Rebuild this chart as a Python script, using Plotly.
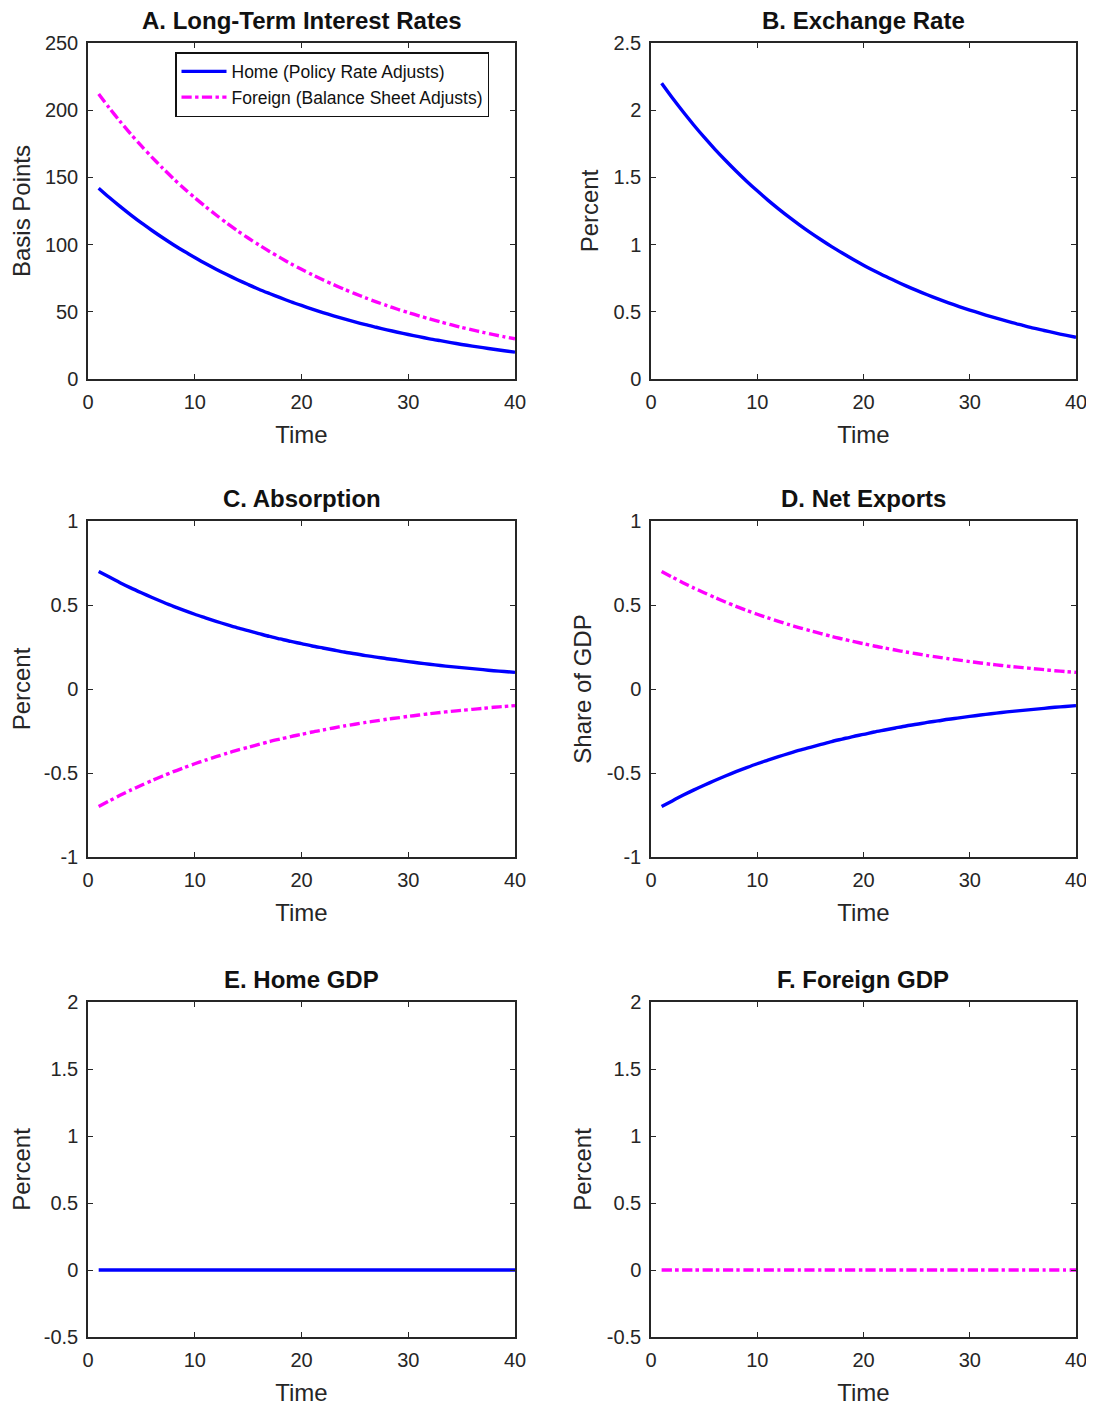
import plotly.graph_objects as go

time = list(range(1, 41))

home_rate = [142, 135.0, 128.4, 122.1, 116.1, 110.5, 105.1, 99.9, 95.0, 90.4, 85.9, 81.7, 77.7, 73.9,
             70.3, 66.8, 63.6, 60.5, 57.5, 54.7, 52.0, 49.4, 47.0, 44.7, 42.5, 40.4, 38.5, 36.6, 34.8,
             33.1, 31.5, 29.9, 28.5, 27.1, 25.7, 24.5, 23.3, 22.1, 21.0, 20.0]
foreign_rate = [212, 201.6, 191.7, 182.3, 173.4, 164.9, 156.8, 149.1, 141.8, 134.9, 128.3, 122.0, 116.0,
                110.3, 104.9, 99.8, 94.9, 90.3, 85.8, 81.6, 77.6, 73.8, 70.2, 66.8, 63.5, 60.4, 57.4,
                54.6, 51.9, 49.4, 47.0, 44.7, 42.5, 40.4, 38.4, 36.5, 34.7, 33.0, 31.4, 29.9]
exchange_rate = [2.200, 2.092, 1.990, 1.892, 1.799, 1.711, 1.628, 1.548, 1.472, 1.400, 1.331, 1.266,
                 1.204, 1.145, 1.089, 1.036, 0.985, 0.937, 0.891, 0.847, 0.806, 0.766, 0.729, 0.693,
                 0.659, 0.627, 0.596, 0.567, 0.539, 0.513, 0.488, 0.464, 0.441, 0.419, 0.399, 0.379,
                 0.361, 0.343, 0.326, 0.310]
home_absorption = [0.700, 0.666, 0.633, 0.602, 0.573, 0.545, 0.518, 0.492, 0.468, 0.445, 0.424, 0.403,
                   0.383, 0.364, 0.347, 0.330, 0.313, 0.298, 0.283, 0.270, 0.256, 0.244, 0.232, 0.220,
                   0.210, 0.199, 0.190, 0.180, 0.172, 0.163, 0.155, 0.147, 0.140, 0.133, 0.127, 0.121,
                   0.115, 0.109, 0.104, 0.099]
foreign_absorption = [-0.700, -0.666, -0.633, -0.602, -0.573, -0.545, -0.518, -0.492, -0.468, -0.445,
                      -0.424, -0.403, -0.383, -0.364, -0.347, -0.330, -0.313, -0.298, -0.283, -0.270,
                      -0.256, -0.244, -0.232, -0.220, -0.210, -0.199, -0.190, -0.180, -0.172, -0.163,
                      -0.155, -0.147, -0.140, -0.133, -0.127, -0.121, -0.115, -0.109, -0.104, -0.099]
home_netexports = [-0.700, -0.666, -0.633, -0.602, -0.573, -0.545, -0.518, -0.492, -0.468, -0.445,
                   -0.424, -0.403, -0.383, -0.364, -0.347, -0.330, -0.313, -0.298, -0.283, -0.270,
                   -0.256, -0.244, -0.232, -0.220, -0.210, -0.199, -0.190, -0.180, -0.172, -0.163,
                   -0.155, -0.147, -0.140, -0.133, -0.127, -0.121, -0.115, -0.109, -0.104, -0.099]
foreign_netexports = [0.700, 0.666, 0.633, 0.602, 0.573, 0.545, 0.518, 0.492, 0.468, 0.445, 0.424, 0.403,
                      0.383, 0.364, 0.347, 0.330, 0.313, 0.298, 0.283, 0.270, 0.256, 0.244, 0.232, 0.220,
                      0.210, 0.199, 0.190, 0.180, 0.172, 0.163, 0.155, 0.147, 0.140, 0.133, 0.127, 0.121,
                      0.115, 0.109, 0.104, 0.099]
home_gdp = [0.0] * 40
foreign_gdp = [0.0] * 40

titles = ["A. Long-Term Interest Rates", "B. Exchange Rate", "C. Absorption", "D. Net Exports",
          "E. Home GDP", "F. Foreign GDP"]
ylabels = ["Basis Points", "Percent", "Percent", "Share of GDP", "Percent", "Percent"]
xticks = [0, 10, 20, 30, 40]
yticks = [
    [0, 50, 100, 150, 200, 250],
    [0, 0.5, 1, 1.5, 2, 2.5],
    [-1, -0.5, 0, 0.5, 1],
    [-1, -0.5, 0, 0.5, 1],
    [-0.5, 0, 0.5, 1, 1.5, 2],
    [-0.5, 0, 0.5, 1, 1.5, 2],
]
yticktext = [
    ["0", "50", "100", "150", "200", "250"],
    ["0", "0.5", "1", "1.5", "2", "2.5"],
    ["-1", "-0.5", "0", "0.5", "1"],
    ["-1", "-0.5", "0", "0.5", "1"],
    ["-0.5", "0", "0.5", "1", "1.5", "2"],
    ["-0.5", "0", "0.5", "1", "1.5", "2"],
]
yranges = [[0, 250], [0, 2.5], [-1, 1], [-1, 1], [-0.5, 2], [-0.5, 2]]

W, H = 1094, 1409
OFF = 8  # page body margin
col_px = [(88 - OFF, 515 - OFF), (651 - OFF, 1076 - OFF)]
row_px = [(43 - OFF, 379 - OFF), (521 - OFF, 857 - OFF), (1002 - OFF, 1337 - OFF)]

BLUE = "#0000FF"
MAG = "#FF00FF"
AX = "#262626"
FONT = "Liberation Sans, Arial, sans-serif"

fig = go.Figure()

series = [
    [(home_rate, BLUE, "solid", "Home (Policy Rate Adjusts)", True),
     (foreign_rate, MAG, "dashdot", "Foreign (Balance Sheet Adjusts)", True)],
    [(exchange_rate, BLUE, "solid", None, False)],
    [(home_absorption, BLUE, "solid", None, False), (foreign_absorption, MAG, "dashdot", None, False)],
    [(home_netexports, BLUE, "solid", None, False), (foreign_netexports, MAG, "dashdot", None, False)],
    [(home_gdp, BLUE, "solid", None, False)],
    [(foreign_gdp, MAG, "dashdot", None, False)],
]

annotations = []
for i in range(6):
    r, c = divmod(i, 2)
    xa = "x" if i == 0 else f"x{i+1}"
    ya = "y" if i == 0 else f"y{i+1}"
    for vals, color, dash, name, showleg in series[i]:
        fig.add_trace(go.Scatter(x=time, y=vals, mode="lines", xaxis=xa, yaxis=ya,
                                 line=dict(color=color, width=3.4, dash=dash, shape="spline", smoothing=0.8),
                                 name=name if name else "", showlegend=showleg))
    x0, x1 = col_px[c]
    y0, y1 = row_px[r]
    xd = [x0 / W, x1 / W]
    yd = [1 - y1 / H, 1 - y0 / H]
    common = dict(showline=True, linecolor=AX, linewidth=1.5, mirror="ticks", ticks="inside",
                  ticklen=5, tickwidth=1, tickcolor=AX, showgrid=False, zeroline=False,
                  automargin=False, ticklabelstandoff=4,
                  tickfont=dict(size=20, color=AX, family=FONT))
    fig.layout[("xaxis" if i == 0 else f"xaxis{i+1}")] = dict(
        domain=xd, anchor=ya, range=[0, 40], tickvals=xticks, ticktext=[str(v) for v in xticks],
        title=dict(text="Time", font=dict(size=24, color=AX, family=FONT), standoff=14), **common)
    fig.layout[("yaxis" if i == 0 else f"yaxis{i+1}")] = dict(
        domain=yd, anchor=xa, range=yranges[i], tickvals=yticks[i], ticktext=yticktext[i],
        title=dict(text=ylabels[i], font=dict(size=24, color=AX, family=FONT), standoff=8), **common)
    annotations.append(dict(text=f"<b>{titles[i]}</b>", x=(x0 + x1) / 2 / W, y=1 - (y0 - 7) / H,
                            xref="paper", yref="paper", xanchor="center", yanchor="bottom",
                            showarrow=False, font=dict(size=24, color="#111111", family=FONT)))

fig.update_layout(
    width=W, height=H, margin=dict(l=0, r=0, t=0, b=0, autoexpand=False),
    paper_bgcolor="white", plot_bgcolor="white",
    annotations=annotations,
    legend=dict(x=(175 - OFF) / W, y=1 - (52 - OFF) / H, xanchor="left", yanchor="top",
                bordercolor="#111111", borderwidth=1.5, bgcolor="white",
                font=dict(size=17.5, color="#111111", family=FONT),
                tracegroupgap=0, itemwidth=45),
)

fig.write_html("out.html")
